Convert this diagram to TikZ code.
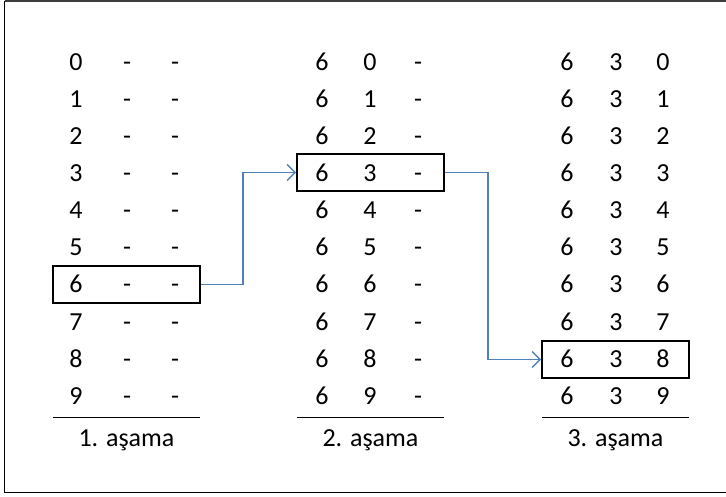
\documentclass[tikz,border=0pt]{standalone}
\usepackage{fontspec}
\setmainfont{Carlito}
\usetikzlibrary{arrows.meta}
\definecolor{linkblue}{RGB}{79,129,189}
\definecolor{framegray}{RGB}{60,60,60}
\tikzset{
  digit/.style={font=\fontsize{26}{28}\selectfont, text=black, inner sep=0pt, anchor=base},
  stagelabel/.style={font=\fontsize{26}{28}\selectfont, inner sep=0pt, anchor=base},
  rowbox/.style={draw=black, line width=1.8pt, minimum width=147pt, minimum height=37pt, inner sep=0pt},
  rule/.style={draw=black, line width=1.8pt},
  link/.style={draw=linkblue, line width=1.7pt, -{Straight Barb[length=8pt,width=16pt,line width=1.4pt]}}
}
\begin{document}
\begin{tikzpicture}[x=1pt,y=-1pt]
\useasboundingbox (0,0) rectangle (726,497);
% outer frame
\draw[framegray, line width=1.5pt] (4.5,0.8) -- (740,0.8);
\draw[black, line width=1.8pt] (4.5,0.8) -- (4.5,492.5) -- (740,492.5);

% stage 1: first digit varies
\foreach \i in {0,...,9} {
  \pgfmathsetmacro{\yy}{70.4+37.1*\i}
  \node[digit] (a\i x) at (76,\yy) {\i};
  \node[digit] (a\i y) at (127,\yy) {-};
  \node[digit] (a\i z) at (175,\yy) {-};
}
% stage 2: second digit varies
\foreach \i in {0,...,9} {
  \pgfmathsetmacro{\yy}{70.4+37.1*\i}
  \node[digit] (b\i x) at (322,\yy) {6};
  \node[digit] (b\i y) at (370,\yy) {\i};
  \node[digit] (b\i z) at (418,\yy) {-};
}
% stage 3: third digit varies
\foreach \i in {0,...,9} {
  \pgfmathsetmacro{\yy}{70.4+37.1*\i}
  \node[digit] (c\i x) at (567,\yy) {6};
  \node[digit] (c\i y) at (616,\yy) {3};
  \node[digit] (c\i z) at (663,\yy) {\i};
}

% bottom rules and stage labels
\draw[rule] (53,417.5) -- (200,417.5);
\draw[rule] (297,417.5) -- (444,417.5);
\draw[rule] (542,417.5) -- (689,417.5);
\node[stagelabel] (s1) at (126.5,446.5) {1. aşama};
\node[stagelabel] (s2) at (370.5,446.5) {2. aşama};
\node[stagelabel] (s3) at (615.5,446.5) {3. aşama};

% selected rows
\node[rowbox] (sel1) at (126.5,284.5) {};
\node[rowbox] (sel2) at (370.5,172.5) {};
\node[rowbox] (sel3) at (615.5,359.5) {};

% transitions between stages
\draw[link] (sel1.east) -- ++(42,0) |- (sel2.west);
\draw[link] (sel2.east) -- ++(43,0) |- (sel3.west);
\end{tikzpicture}
\end{document}
